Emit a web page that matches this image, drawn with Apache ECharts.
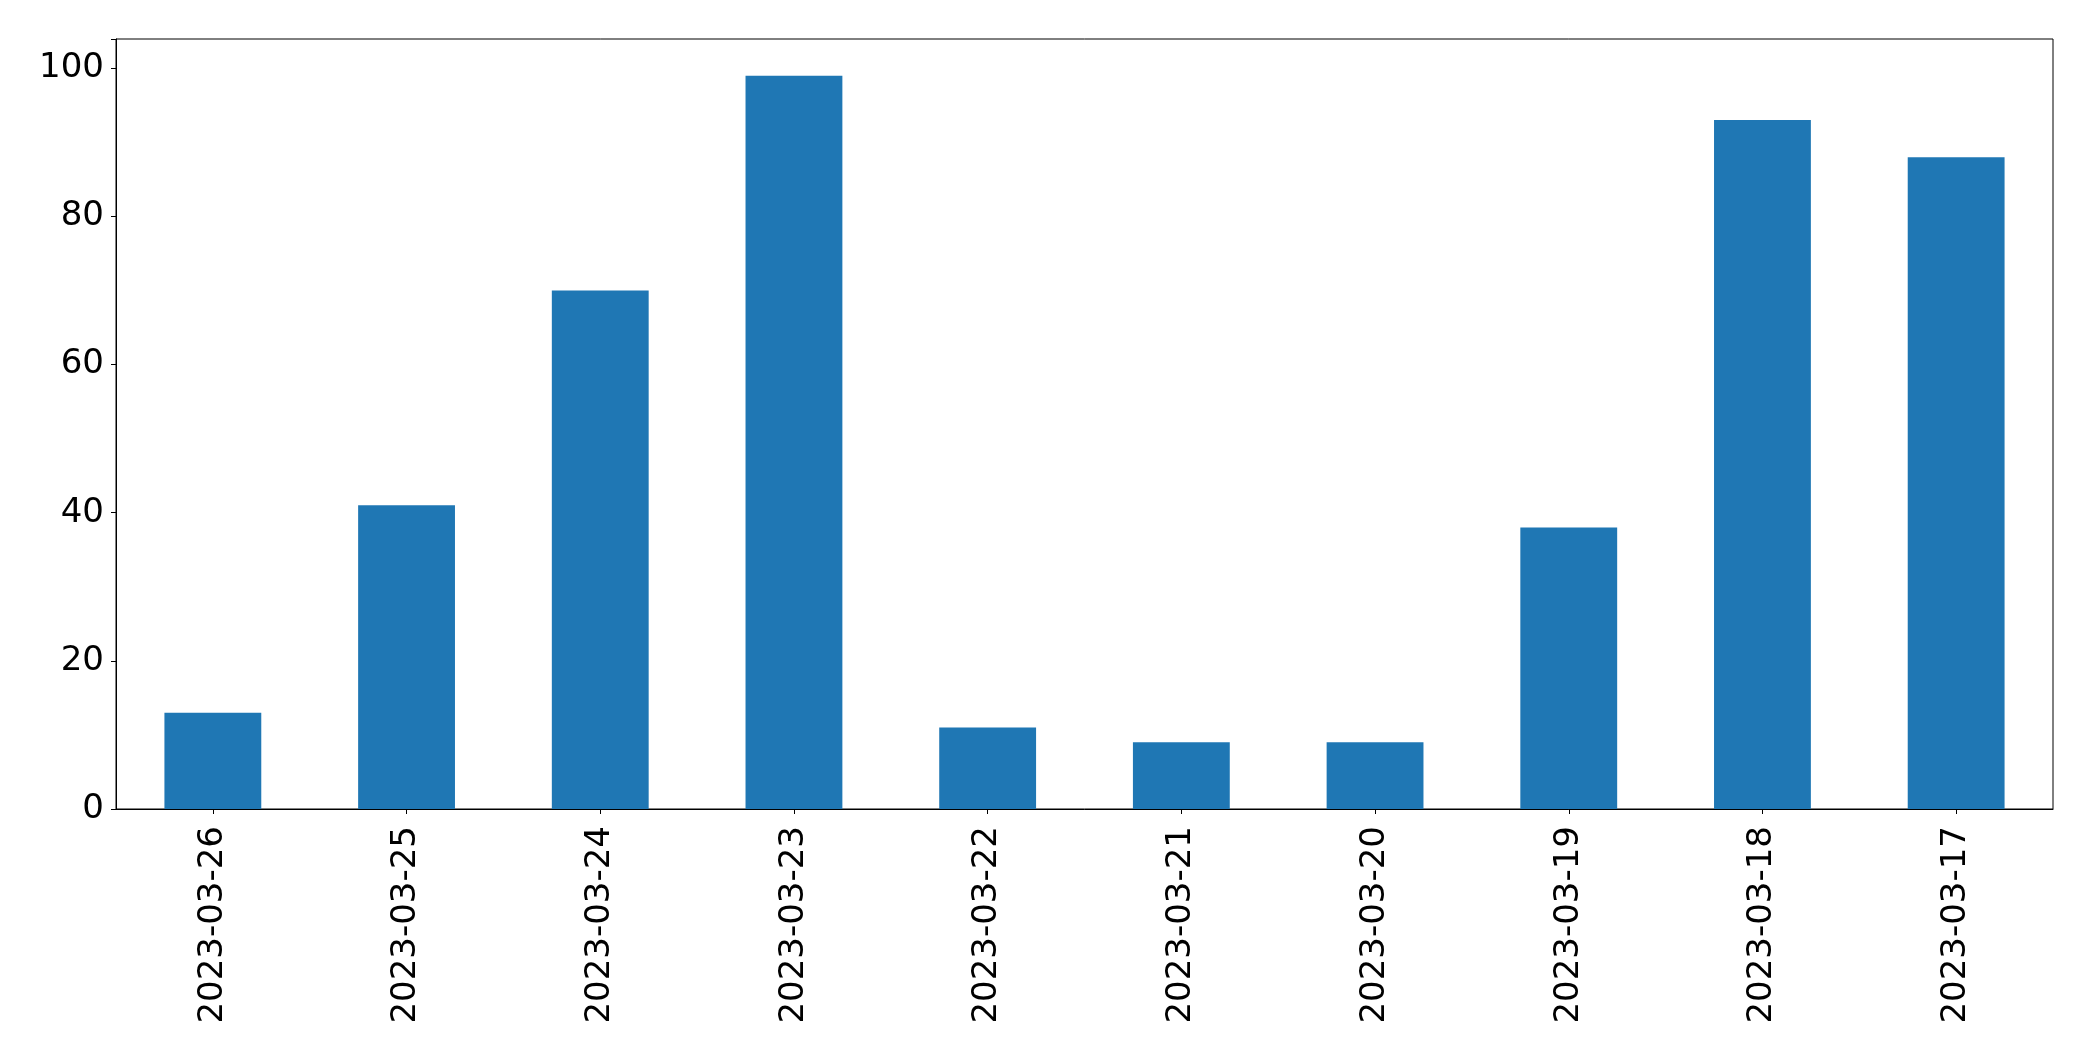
<!DOCTYPE html>
<html>
<head>
<meta charset="utf-8">
<script src="https://cdn.jsdelivr.net/npm/echarts@6/dist/echarts.min.js"></script>
<style>html,body{margin:0;padding:0;background:#fff}#c{width:2093px;height:1061px}</style>
</head>
<body>
<div id="c"></div>
<script>
const categories = ['2023-03-26','2023-03-25','2023-03-24','2023-03-23','2023-03-22','2023-03-21','2023-03-20','2023-03-19','2023-03-18','2023-03-17'];
const values = [13, 41, 70, 99, 11, 9, 9, 38, 93, 88];
const yTicks = [0, 20, 40, 60, 80, 100];

const chart = echarts.init(document.getElementById('c'), null, {renderer: 'canvas'});
const font = 'DejaVu Sans';
chart.setOption({
  animation: false,
  grid: {left: 116, right: 40, top: 39, bottom: 252, show: true, borderColor: '#000', borderWidth: 1, backgroundColor: 'transparent'},
  xAxis: {
    type: 'category', data: categories,
    axisLine: {lineStyle: {color: '#000', width: 1}},
    axisTick: {show: true, alignWithLabel: true, length: 5, lineStyle: {color: '#000'}},
    axisLabel: {rotate: 90, margin: 17, fontSize: 34, fontFamily: font, color: '#000', interval: 0}
  },
  yAxis: {
    type: 'value', min: 0, max: 103.95, interval: 20,
    axisLine: {show: true, lineStyle: {color: '#000', width: 1}},
    axisTick: {show: true, length: 5, lineStyle: {color: '#000'}},
    splitLine: {show: false},
    axisLabel: {margin: 12, fontSize: 34, fontFamily: font, color: '#000',
      formatter: v => yTicks.includes(v) ? String(v) : ''}
  },
  series: [{
    type: 'bar', data: values, barCategoryGap: '50%',
    itemStyle: {color: '#1f77b4'}
  }]
});
</script>
</body>
</html>
